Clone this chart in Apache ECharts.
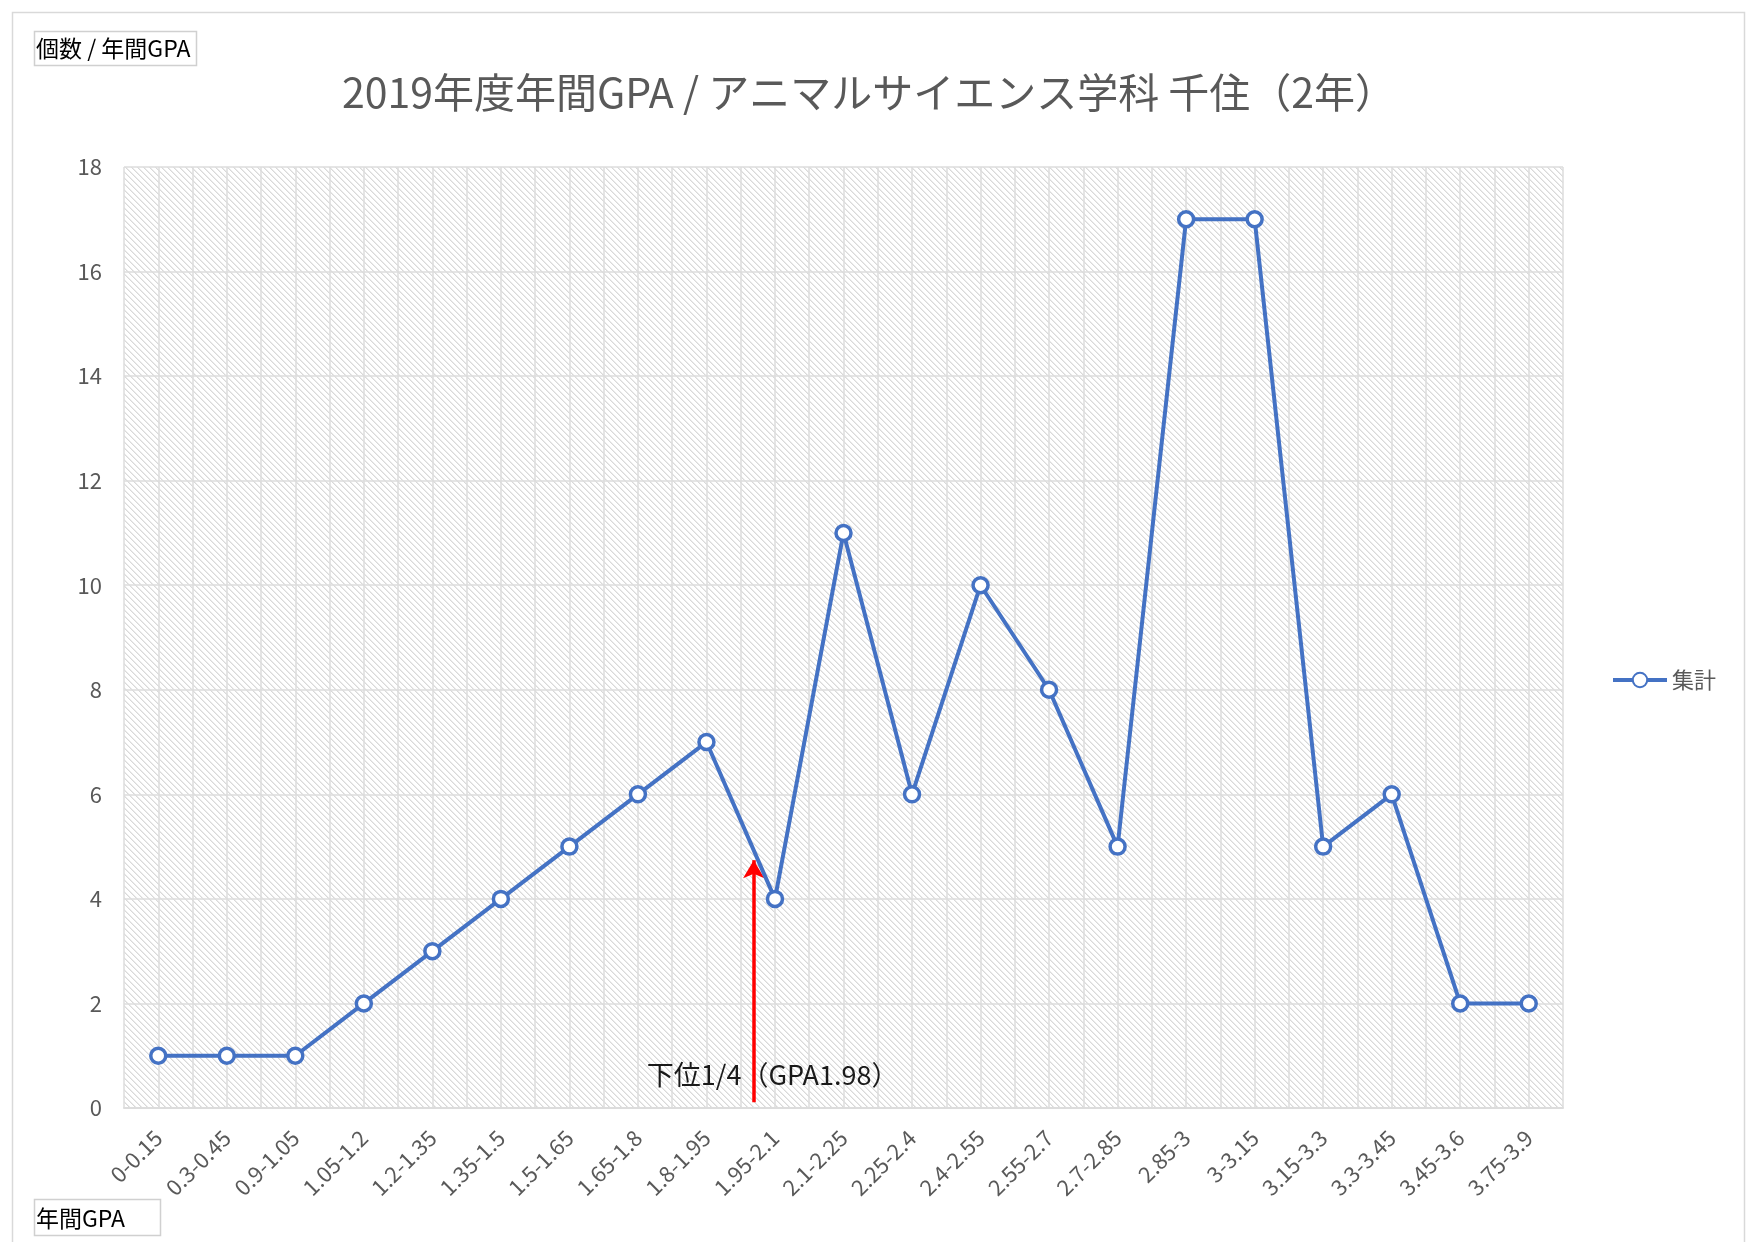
<!DOCTYPE html>
<html>
<head>
<meta charset="utf-8">
<script src="https://cdn.jsdelivr.net/npm/echarts@6/dist/echarts.min.js"></script>
<style>
  html, body { margin: 0; padding: 0; background: #fff; }
  #container { width: 1764px; height: 1242px; }
</style>
</head>
<body>
<div id="container"></div>
<script>
// GPAの区間
var categories = ['0-0.15', '0.3-0.45', '0.9-1.05', '1.05-1.2', '1.2-1.35', '1.35-1.5',
    '1.5-1.65', '1.65-1.8', '1.8-1.95', '1.95-2.1', '2.1-2.25', '2.25-2.4', '2.4-2.55',
    '2.55-2.7', '2.7-2.85', '2.85-3', '3-3.15', '3.15-3.3', '3.3-3.45', '3.45-3.6', '3.75-3.9'];
// 集計（個数）
var counts = [1, 1, 1, 2, 3, 4, 5, 6, 7, 4, 11, 6, 10, 8, 5, 17, 17, 5, 6, 2, 2];
var yTicks = [0, 18, 2]; // min, max, interval
// 下位1/4 の矢印 (x は区間インデックス)
var arrowFrom = [8.69, 0.11];
var arrowTo = [8.69, 4.74];
var arrowLabel = '下位1/4（GPA1.98）';
var arrowLabelAt = [7.13, 0.63];

var FONT = '"Noto Sans CJK JP", "Noto Sans", sans-serif';
var GRAY = '#595959';
var GRID_LINE = '#dcdcdc';

// 斜線の背景パターン
function hatch() {
    var n = 12;
    var c = document.createElement('canvas');
    c.width = n;
    c.height = n;
    var ctx = c.getContext('2d');
    ctx.fillStyle = '#ffffff';
    ctx.fillRect(0, 0, n, n);
    for (var x = 0; x < n; x++) {
        for (var y = 0; y < n; y++) {
            var d = ((x - y) % 6 + 6) % 6;
            if (d === 0) {
                ctx.fillStyle = '#d9d9d9';
                ctx.fillRect(x, y, 1, 1);
            } else if (d === 1) {
                ctx.fillStyle = '#ebebeb';
                ctx.fillRect(x, y, 1, 1);
            }
        }
    }
    return c;
}

// 補助目盛り用（区間の半分ごとに縦線）
var halfCats = [];
for (var i = 0; i < categories.length * 2; i++) halfCats.push(i);

var myChart = echarts.init(document.getElementById('container'));

var option = {
    backgroundColor: '#ffffff',
    textStyle: { fontFamily: FONT },
    title: {
        text: '2019年度年間GPA / アニマルサイエンス学科 千住（2年）',
        left: 869,
        top: 72,
        padding: 0,
        textAlign: 'center',
        textStyle: {
            fontFamily: FONT,
            fontSize: 41,
            fontWeight: 'normal',
            color: GRAY
        }
    },
    legend: {
        data: ['集計'],
        left: 1606,
        top: 664,
        itemWidth: 54,
        itemHeight: 18,
        itemGap: 4,
        lineStyle: { width: 4 },
        textStyle: { fontSize: 22, color: GRAY, fontFamily: FONT }
    },
    grid: {
        left: 124,
        right: 201,
        top: 167,
        bottom: 134,
        show: true,
        borderWidth: 0,
        backgroundColor: { image: hatch(), repeat: 'repeat' }
    },
    xAxis: [{
        type: 'category',
        data: categories,
        boundaryGap: true,
        axisLine: { lineStyle: { color: GRID_LINE, width: 2 } },
        axisTick: { show: false },
        splitLine: { show: false },
        axisLabel: {
            rotate: 45,
            interval: 0,
            margin: 26,
            fontSize: 22,
            color: GRAY,
            fontFamily: FONT
        }
    }, {
        type: 'category',
        data: halfCats,
        boundaryGap: true,
        position: 'bottom',
        axisLine: { show: false },
        axisTick: { show: false },
        axisLabel: { show: false },
        splitLine: { show: true, interval: 0, lineStyle: { color: GRID_LINE, width: 1.5 } }
    }, {
        type: 'value',
        min: -0.5,
        max: categories.length - 0.5,
        show: false
    }],
    yAxis: {
        type: 'value',
        min: yTicks[0],
        max: yTicks[1],
        interval: yTicks[2],
        axisLine: { show: false },
        axisTick: { show: false },
        axisLabel: { fontSize: 22, color: GRAY, margin: 22, fontFamily: FONT },
        splitLine: { lineStyle: { color: GRID_LINE, width: 1.5 } }
    },
    series: [{
        name: '集計',
        type: 'line',
        xAxisIndex: 0,
        data: counts,
        symbol: 'circle',
        symbolSize: 15,
        lineStyle: { color: '#4472c4', width: 4 },
        itemStyle: { color: '#ffffff', borderColor: '#4472c4', borderWidth: 3.5 },
        z: 5
    }, {
        name: 'arrow',
        type: 'line',
        xAxisIndex: 2,
        data: [],
        markLine: {
            silent: true,
            symbol: ['none', 'arrow'],
            symbolSize: [16, 18],
            label: { show: false },
            lineStyle: { color: '#ff0000', width: 3.5, type: 'solid' },
            data: [[{ coord: arrowFrom }, { coord: arrowTo }]]
        },
        markPoint: {
            silent: true,
            symbol: 'circle',
            symbolSize: 0,
            label: {
                show: true,
                position: 'right',
                distance: 0,
                formatter: arrowLabel,
                fontSize: 27,
                color: '#1a1a1a',
                fontFamily: FONT
            },
            data: [{ coord: arrowLabelAt }]
        },
        z: 6
    }],
    graphic: [{
        type: 'rect',
        shape: { x: 12.5, y: 12.5, width: 1732, height: 1260 },
        style: { fill: null, stroke: '#d9d9d9', lineWidth: 1.5 },
        silent: true
    }, {
        type: 'rect',
        shape: { x: 34.5, y: 31.5, width: 162, height: 34 },
        style: { fill: '#ffffff', stroke: '#d0d0d0', lineWidth: 1.5 }
    }, {
        type: 'text',
        x: 36,
        y: 48,
        style: { text: '個数 / 年間GPA', fontSize: 23, fill: '#000', fontFamily: FONT, verticalAlign: 'middle' }
    }, {
        type: 'rect',
        shape: { x: 34.5, y: 1199.5, width: 126, height: 36 },
        style: { fill: '#ffffff', stroke: '#d0d0d0', lineWidth: 1.5 }
    }, {
        type: 'text',
        x: 36,
        y: 1218,
        style: { text: '年間GPA', fontSize: 23, fill: '#000', fontFamily: FONT, verticalAlign: 'middle' }
    }]
};
myChart.setOption(option);
</script>
</body>
</html>
